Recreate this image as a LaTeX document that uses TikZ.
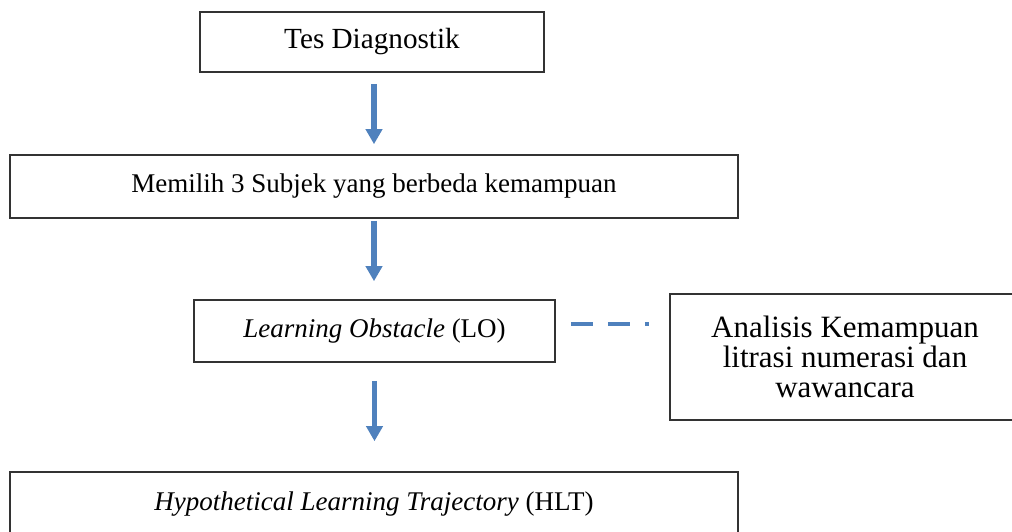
\documentclass[tikz,border=0pt]{standalone}
\usepackage{fontspec}
\setmainfont{Liberation Serif}
\usetikzlibrary{arrows.meta}
\definecolor{flowblue}{RGB}{79,129,189}
\begin{document}
\begin{tikzpicture}[x=0.5pt, y=-0.5pt,
  box/.style={draw=black!80, line width=0.8pt, fill=white, inner sep=2pt,
    align=center, font=\fontsize{13.5}{16}\selectfont},
  flow/.style={draw=flowblue, line width=2.6pt,
    -{Triangle[width=8pt, length=7.5pt]}},
  link/.style={draw=flowblue, line width=2.2pt,
    dash pattern=on 11pt off 7.5pt}]
  \clip (0,0) rectangle (1012,531);
  \useasboundingbox (0,0) rectangle (1012,531);
  % boxes
  \node[box, minimum width=172pt, minimum height=30pt, font=\fontsize{14.6}{17}\selectfont] (tes) at (372,42) {Tes Diagnostik};
  \node[box, minimum width=364pt, minimum height=31.5pt] (subjek) at (374,186.5) {Memilih 3 Subjek yang berbeda kemampuan};
  \node[box, minimum width=180.5pt, minimum height=31pt] (lo) at (374.5,331) {\textit{Learning Obstacle} (LO)};
  \node[box, minimum width=175pt, minimum height=63pt, font=\fontsize{15.5}{15}\selectfont] (analisis) at (845,357) {Analisis Kemampuan\\ litrasi numerasi dan\\ wawancara};
  \node[box, minimum width=364pt, minimum height=32pt] (hlt) at (374,504) {\textit{Hypothetical Learning Trajectory} (HLT)};
  % arrows
  \draw[flow, shorten <=5.5pt, shorten >=5pt] ([xshift=1pt]tes.south) -- ([xshift=1pt]tes.south |- subjek.north);
  \draw[flow, shorten <=1pt, shorten >=9pt] (subjek.south) -- (subjek.south |- lo.north);
  \draw[flow, shorten <=9pt, shorten >=15pt] (lo.south) -- (lo.south |- hlt.north);
  % dashed link
  \draw[link, shorten <=7.5pt, shorten >=10pt] ([yshift=3.5pt]lo.east) -- ([yshift=3.5pt]lo.east -| analisis.west);
\end{tikzpicture}
\end{document}
